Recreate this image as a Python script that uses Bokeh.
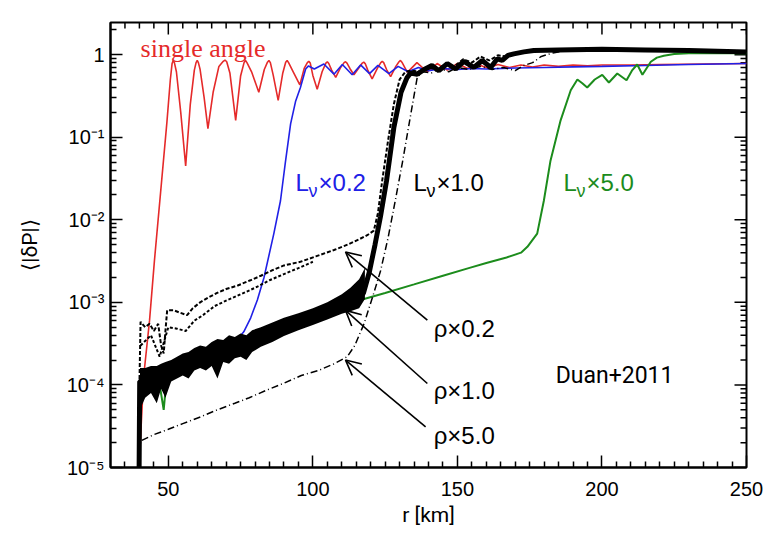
import math
from bokeh.plotting import figure
from bokeh.models import FixedTicker, Label, Arrow, OpenHead, Range1d
from bokeh.embed import file_html
from bokeh.resources import INLINE

# ---------------- data ----------------
red_x = [40.3, 41.5, 43.5, 45.2, 47.5, 49.5, 50.7, 51.3, 51.7, 52.1,
         52.8, 54.3, 56.0, 57.6, 59.0, 59.6, 60.0, 60.4, 61.0, 62.4,
         63.7, 65.5, 67.5, 69.0, 69.6, 70.2, 71.3, 73.3, 75.0, 76.2,
         76.7, 77.2, 78.8, 81.3, 83.2, 84.3, 84.8, 85.3, 86.3, 88.0,
         89.6, 90.6, 91.1, 91.6, 93.2, 95.5, 97.0, 98.1, 98.6, 99.1,
         100.0, 101.5, 103.2, 104.5, 105.0, 105.5, 106.5, 107.9, 109.6, 110.8,
         111.3, 111.8, 112.8, 114.2, 116.0, 117.1, 117.6, 118.1, 119.0, 120.5,
         122.3, 123.5, 124.0, 124.5, 125.5, 126.9, 128.7, 129.8, 130.3, 130.8,
         132.7, 136, 139.5, 143, 146.5, 150, 153.5, 157, 160.5, 164,
         168, 172, 176, 180, 185, 190, 195, 200, 210, 220,
         235, 250]
red_y = [2e-5, 1.3e-4, 6e-4, 3.2e-3, 0.025, 0.15, 0.5, 0.78, 0.85, 0.8,
         0.62, 0.2, 0.045, 0.25, 0.65, 0.8, 0.85, 0.8, 0.66, 0.3,
         0.127, 0.35, 0.72, 0.83, 0.86, 0.82, 0.6, 0.16, 0.55, 0.8,
         0.85, 0.8, 0.62, 0.35, 0.66, 0.81, 0.85, 0.8, 0.56, 0.28,
         0.6, 0.81, 0.85, 0.8, 0.62, 0.43, 0.68, 0.8, 0.83, 0.79,
         0.56, 0.38, 0.62, 0.79, 0.82, 0.78, 0.65, 0.53, 0.7, 0.8,
         0.82, 0.79, 0.68, 0.57, 0.7, 0.79, 0.81, 0.78, 0.65, 0.51,
         0.68, 0.8, 0.83, 0.8, 0.66, 0.54, 0.72, 0.82, 0.85, 0.81,
         0.61, 0.8, 0.62, 0.78, 0.65, 0.78, 0.68, 0.76, 0.69, 0.76,
         0.70, 0.75, 0.71, 0.75, 0.72, 0.75, 0.73, 0.75, 0.75, 0.76,
         0.77, 0.78]

blue_x = [40.2, 45, 50, 55, 60, 61.7, 63.4, 66, 70, 74,
          76.1, 78.5, 80.8, 83.1, 86.5, 88.8, 90.5, 92.3, 94.0, 95.7,
          97.5, 98.5, 100.5, 103.8, 107.3, 110.2, 113.6, 116.5, 119.6, 122.5,
          126.3, 129.5, 133, 136.5, 140, 145, 150, 155, 160, 170,
          180, 190, 200, 215, 230, 250]
blue_y = [1.1e-4, 1.3e-4, 1.5e-4, 1.7e-4, 2.1e-4, 2.2e-4, 2.4e-4, 2.6e-4, 3.0e-4, 3.6e-4,
          4.4e-4, 6.5e-4, 1.07e-3, 2.0e-3, 6.8e-3, 0.017, 0.05, 0.145, 0.27, 0.40,
          0.67, 0.73, 0.67, 0.77, 0.58, 0.76, 0.57, 0.75, 0.59, 0.74,
          0.59, 0.72, 0.62, 0.70, 0.64, 0.68, 0.66, 0.68, 0.67, 0.69,
          0.70, 0.71, 0.72, 0.74, 0.76, 0.78]

green_x = [40.3, 41, 43, 45, 46.5, 48.4, 49.5, 52, 55, 58,
           61, 65, 70, 75, 80, 85, 90, 95, 100, 105,
           110, 114, 117.7, 125, 135, 145, 153.9, 160, 167, 172,
           174.2, 177.6, 179.9, 182.2, 185.7, 189.2, 191.5, 193.2, 194.9, 197.5,
           200.1, 202.4, 205.3, 208.5, 210.5, 212.2, 214.0, 216.9, 219, 221.4,
           225, 230, 240, 250]
green_y = [7e-5, 1e-4, 1.1e-4, 9e-5, 1.3e-4, 5e-5, 1.3e-4, 1.4e-4, 1.6e-4, 1.7e-4,
           2e-4, 2.3e-4, 2.6e-4, 3.1e-4, 3.6e-4, 4.2e-4, 5e-4, 5.6e-4, 6.5e-4, 7.5e-4,
           8.5e-4, 9.5e-4, 1.1e-3, 1.3e-3, 1.65e-3, 2.1e-3, 2.6e-3, 3.0e-3, 3.5e-3, 4.0e-3,
           4.7e-3, 6.8e-3, 0.017, 0.052, 0.16, 0.37, 0.50, 0.45, 0.40, 0.50,
           0.57, 0.46, 0.59, 0.49, 0.65, 0.76, 0.57, 0.82, 0.92, 0.97,
           1.02, 1.04, 1.04, 1.04]

rho1_x = [39.9, 40.1, 42, 45, 48, 50, 55, 61, 65, 70,
          75, 78.4, 85, 90, 95.7, 100, 105, 110.7, 115, 117.5,
          119.5, 121.5, 123.4, 125.5, 128.0, 130.5, 132.5, 133.8, 136.1, 138.5,
          141.2, 143.6, 146.5, 149.4, 152.2, 155.7, 158.6, 161.5, 163.8, 165.5,
          167.5, 169.5, 173, 176.4, 185, 200, 215, 230, 240, 250]
rho1_y = [1e-5, 1.1e-4, 1.15e-4, 1.2e-4, 1.3e-4, 1.5e-4, 1.7e-4, 2.0e-4, 2.3e-4, 2.6e-4,
          2.9e-4, 3.1e-4, 4.0e-4, 4.7e-4, 5.5e-4, 6.3e-4, 7.3e-4, 8.8e-4, 1.0e-3, 1.3e-3,
          2.3e-3, 5.0e-3, 0.011, 0.03, 0.13, 0.35, 0.52, 0.60, 0.58, 0.66,
          0.74, 0.64, 0.78, 0.67, 0.83, 0.70, 0.85, 0.70, 0.89, 0.85,
          0.98, 1.02, 1.08, 1.12, 1.14, 1.16, 1.14, 1.12, 1.10, 1.08]
band_x = [40.2, 42, 44, 46, 47.5, 49, 51, 53, 55, 57,
          59, 61, 63, 65, 67, 69, 71, 73, 75, 77,
          79, 82, 86, 90, 95, 100, 105, 110, 113, 116, 118]
band_lo = [5e-5, 7e-5, 8e-5, 6e-5, 9e-5, 7e-5, 1.1e-4, 1.2e-4, 1.3e-4, 1.2e-4,
           1.5e-4, 1.6e-4, 1.5e-4, 1.7e-4, 1.2e-4, 1.9e-4, 1.8e-4, 2.1e-4, 2.2e-4, 2.0e-4,
           2.5e-4, 2.9e-4, 3.3e-4, 3.9e-4, 4.6e-4, 5.3e-4, 6.2e-4, 7.3e-4, 7.8e-4, 8.5e-4, 1.1e-3]
band_hi = [1.6e-4, 1.6e-4, 1.7e-4, 1.7e-4, 1.8e-4, 1.9e-4, 2.0e-4, 2.2e-4, 2.4e-4, 2.5e-4,
           2.8e-4, 3.0e-4, 2.9e-4, 3.3e-4, 3.6e-4, 3.5e-4, 4.0e-4, 3.8e-4, 4.2e-4, 4.0e-4,
           4.6e-4, 5.0e-4, 5.7e-4, 6.5e-4, 7.4e-4, 8.5e-4, 1.0e-3, 1.25e-3, 1.5e-3, 1.9e-3, 2.6e-3]

rho02_x = [40.0, 40.4, 42, 43.5, 45, 46.5, 47.5, 48.4, 49.0, 49.6,
           52, 54, 56.5, 58.5, 61, 64, 66.9, 70, 74, 78.4,
           82, 86, 90, 95.7, 101, 107.3, 112, 116, 118.8, 121.1,
           122.5, 124, 126, 128, 130, 132, 134, 137, 140, 143,
           146, 149, 152, 155, 158, 161, 164, 167, 170, 175, 180]
rho02_y = [1.0e-4, 5.8e-4, 5.0e-4, 5.5e-4, 4.5e-4, 5.5e-4, 3.0e-4, 2.4e-4, 4.5e-4, 8.0e-4,
           8.0e-4, 7.5e-4, 7.0e-4, 8.5e-4, 1.0e-3, 1.15e-3, 1.3e-3, 1.45e-3, 1.6e-3, 1.85e-3,
           2.1e-3, 2.45e-3, 2.8e-3, 3.1e-3, 3.6e-3, 4.3e-3, 5.0e-3, 5.8e-3, 6.5e-3, 7.4e-3,
           0.012, 0.03, 0.09, 0.25, 0.5, 0.62, 0.64, 0.62, 0.70, 0.65,
           0.78, 0.72, 0.88, 0.80, 0.95, 0.85, 0.98, 0.95, 1.05, 1.1, 1.13]
rho02_lo_x = [40.4, 44, 47, 50, 53, 56, 59, 62, 66, 70, 75, 80, 85, 90, 95, 100]
rho02_lo_y = [3.0e-4, 4.0e-4, 2.2e-4, 5.0e-4, 4.8e-4, 4.5e-4, 6.0e-4, 7.0e-4, 9.0e-4, 1.05e-3,
              1.25e-3, 1.5e-3, 1.85e-3, 2.2e-3, 2.6e-3, 3.1e-3]

rho5_x = [40.0, 40.4, 45, 50, 55, 61.1, 67, 73, 78, 84.2,
          90, 96, 102, 107.3, 111.9, 114.5, 117.7, 121.1, 123.4, 126,
          128.5, 131, 133.5, 136.1, 138, 141, 144, 147, 150, 154,
          158, 162, 166, 170, 173, 176, 179, 183, 188, 195]
rho5_y = [1e-5, 2.1e-5, 2.5e-5, 2.9e-5, 3.4e-5, 4.1e-5, 5.0e-5, 6.0e-5, 7.0e-5, 8.7e-5,
          1.05e-4, 1.3e-4, 1.5e-4, 1.8e-4, 2.2e-4, 3.0e-4, 5.5e-4, 1.3e-3, 2.4e-3, 6.0e-3,
          0.017, 0.05, 0.16, 0.53, 0.62, 0.60, 0.68, 0.62, 0.70, 0.66,
          0.72, 0.66, 0.70, 0.64, 0.74, 0.80, 0.95, 1.05, 1.12, 1.15]

x_lo, x_hi = 30, 250
y_lo, y_hi = 1e-5, 2.45
x_major = [50, 100, 150, 200, 250]
x_minor = [35, 40, 45, 55, 60, 65, 70, 75, 80, 85, 90, 95, 105, 110, 115, 120, 125,
           130, 135, 140, 145, 155, 160, 165, 170, 175, 180, 185, 190, 195, 205, 210,
           215, 220, 225, 230, 235, 240, 245]
y_major = [1e-5, 1e-4, 1e-3, 1e-2, 1e-1, 1.0]
y_major_labels = ["10⁻⁵", "10⁻⁴", "10⁻³", "10⁻²", "10⁻¹", "1"]
y_minor = [m * d for d in [1e-5, 1e-4, 1e-3, 1e-2, 1e-1] for m in range(2, 10)] + [2.0]

RED = "#e52a2a"
BLUE = "#2020e6"
GREEN = "#1c8c1c"
SANS = "Liberation Sans"
TICK = "black"

p = figure(width=766, height=535, y_axis_type="log",
           x_range=Range1d(x_lo, x_hi), y_range=Range1d(y_lo, y_hi),
           output_backend="svg", toolbar_location=None,
           min_border_left=110, min_border_right=20, min_border_top=22, min_border_bottom=68)
p.xgrid.grid_line_color = None
p.ygrid.grid_line_color = None
p.outline_line_color = "black"
p.outline_line_width = 2

for ax in (p.xaxis[0], p.yaxis[0]):
    ax.major_tick_in = 12
    ax.major_tick_out = 0
    ax.minor_tick_in = 6
    ax.minor_tick_out = 0
    ax.major_tick_line_color = TICK
    ax.minor_tick_line_color = TICK
    ax.major_tick_line_width = 1.5
    ax.minor_tick_line_width = 1.5
    ax.axis_line_color = "black"
    ax.axis_line_width = 2
    ax.major_label_text_font = SANS
    ax.major_label_text_font_size = "20px"
    ax.major_label_text_color = "black"
    ax.axis_label_text_font = "Roboto"
    ax.axis_label_text_font_style = "normal"
    ax.axis_label_text_font_size = "21px"
    ax.axis_label_text_color = "black"

xa = p.xaxis[0]
xa.ticker = FixedTicker(ticks=x_major, minor_ticks=x_minor)
xa.major_label_standoff = 14
xa.axis_label = "r [km]"
xa.axis_label_standoff = 4

ya = p.yaxis[0]
ya.ticker = FixedTicker(ticks=y_major, minor_ticks=y_minor)
ya.major_label_standoff = 6
ya.major_label_overrides = {float(v): s for v, s in zip(y_major, y_major_labels)}
ya.axis_label = "⟨|δP|⟩"
ya.axis_label_standoff = 22

# mirrored inward ticks on top and right edges
TK = dict(line_color=TICK, line_width=1.5, length_units="screen")
p.ray(x=x_major, y=[y_hi] * len(x_major), length=12, angle=-math.pi / 2, **TK)
p.ray(x=x_minor, y=[y_hi] * len(x_minor), length=6, angle=-math.pi / 2, **TK)
p.ray(x=[x_hi] * len(y_major), y=y_major, length=12, angle=math.pi, **TK)
p.ray(x=[x_hi] * len(y_minor), y=y_minor, length=6, angle=math.pi, **TK)

p.line(red_x, red_y, line_color=RED, line_width=1.6)
p.line(blue_x, blue_y, line_color=BLUE, line_width=1.6)
p.line(green_x, green_y, line_color=GREEN, line_width=2)
p.varea(x=band_x, y1=band_lo, y2=band_hi, fill_color="black")
p.line(rho1_x, rho1_y, line_color="black", line_width=5)
p.line(rho02_x, rho02_y, line_color="black", line_width=2, line_dash="4 2")
p.line(rho02_lo_x, rho02_lo_y, line_color="black", line_width=2, line_dash="3 2")
p.line(rho5_x, rho5_y, line_color="black", line_width=1.5, line_dash="7 3 1 3")

arrow_tail = [(139.6, 6.1e-4), (139.6, 1.04e-4), (139.0, 3.1e-5)]
arrow_tip = [(111.3, 4.07e-3), (111.3, 8.0e-4), (111.3, 2.0e-4)]
for (xs, ys), (xe, ye) in zip(arrow_tail, arrow_tip):
    p.add_layout(Arrow(end=OpenHead(size=15, line_width=1.6, line_color="black"),
                       x_start=xs, y_start=ys, x_end=xe, y_end=ye,
                       line_width=1.6, line_color="black"))

def lab(x, y, text, color="black", size="24px", font=SANS, xo=0, yo=0):
    p.add_layout(Label(x=x, y=y, text=text, text_color=color, text_font=font,
                       text_font_size=size, text_baseline="alphabetic",
                       text_align="left", x_offset=xo, y_offset=yo))

lab(40.4, 1.18, "single angle", RED, "26px", "Liberation Serif")
for xL, col, tail in [(94.0, BLUE, "×0.2"), (134.8, "black", "×1.0"), (186.7, GREEN, "×5.0")]:
    lab(xL, 0.0283, "L", col)
    lab(xL, 0.0283, "ν", col, "18px", xo=13, yo=-9)
    lab(xL, 0.0283, tail, col, xo=23)
lab(141.8, 4.86e-4, "ρ×0.2")
lab(141.8, 8.65e-5, "ρ×1.0")
lab(141.8, 2.47e-5, "ρ×5.0")
lab(184.0, 1.31e-4, "Duan+2011", size="23px", font="Roboto")

open("out.html", "w").write(file_html(p, INLINE))
